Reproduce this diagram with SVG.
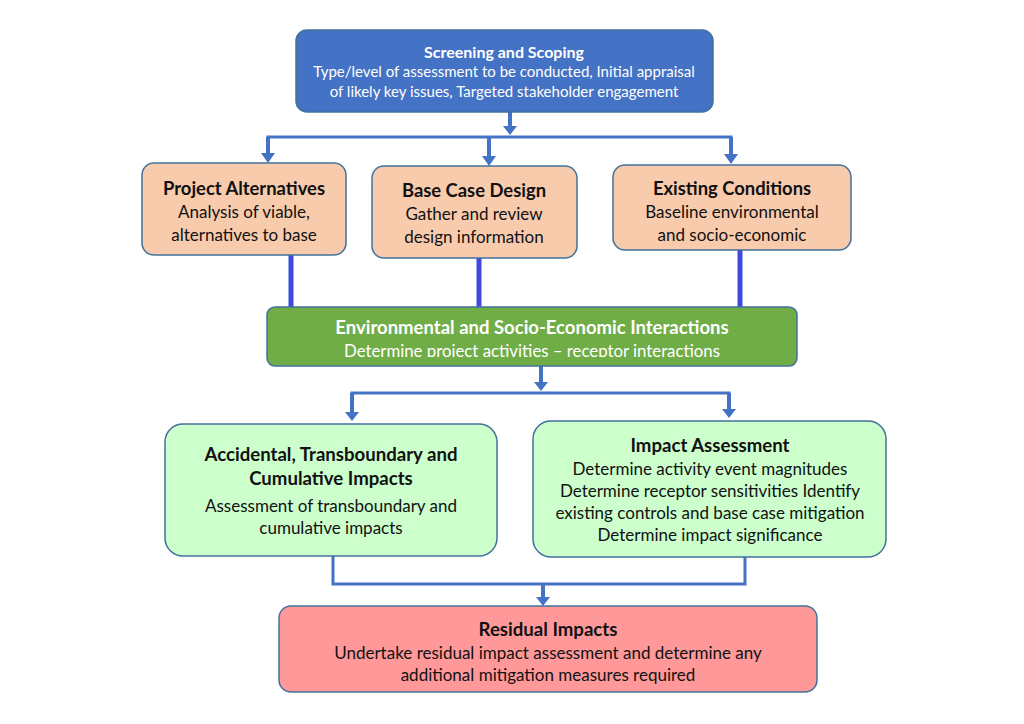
<svg xmlns="http://www.w3.org/2000/svg" width="1024" height="724" viewBox="0 0 1024 724">
<defs>
<style>
.box{stroke:#41719c;stroke-width:1.5}
.t{font-family:Lato,"Liberation Sans",sans-serif;text-anchor:middle;fill:#111}
.b{font-weight:bold}
.w{fill:#fff}
.stem{stroke:#4472c4;stroke-width:4;fill:none}
.bar{stroke:#4472c4;stroke-width:3;fill:none}
.vb{stroke:#3f48e0;stroke-width:5;fill:none}
.head{fill:#4472c4}
</style>
<clipPath id="clipG"><rect x="267" y="300" width="531" height="57"/></clipPath>
</defs>
<rect width="1024" height="724" fill="#fff"/>
<g id="connectors">
<line class="stem" x1="510" y1="112" x2="510" y2="128"/>
<polygon class="head" points="503,126 517,126 510,135"/>
<polyline class="bar" points="268,156 268,137 731,137 731,154"/>
<line class="stem" x1="268" y1="137" x2="268" y2="155"/>
<polygon class="head" points="261,153 275,153 268,163"/>
<line class="stem" x1="489" y1="137" x2="489" y2="157"/>
<polygon class="head" points="482,156 496,156 489,166"/>
<line class="stem" x1="731" y1="137" x2="731" y2="155"/>
<polygon class="head" points="724,154 738,154 731,164"/>
<line class="vb" x1="291" y1="255" x2="291" y2="307"/>
<line class="vb" x1="479" y1="258" x2="479" y2="307"/>
<line class="vb" x1="740" y1="250" x2="740" y2="307"/>
<line class="stem" x1="541" y1="366" x2="541" y2="384"/>
<polygon class="head" points="534,382 548,382 541,391"/>
<polyline class="bar" points="352,412 352,393 729,393 729,410"/>
<line class="stem" x1="352" y1="393" x2="352" y2="413"/>
<polygon class="head" points="345,412 359,412 352,421"/>
<line class="stem" x1="729" y1="393" x2="729" y2="410"/>
<polygon class="head" points="722,409 736,409 729,418"/>
<polyline class="bar" points="333,556 333,584 745,584 745,557"/>
<line class="stem" x1="543" y1="584" x2="543" y2="598"/>
<polygon class="head" points="536,597 550,597 543,606"/>
</g>
<g id="screening">
<rect class="box" x="296" y="30" width="417" height="82" rx="11" fill="#4472c4" stroke="#2f528f"/>
<text class="t b w" x="504" y="58" font-size="16">Screening and Scoping</text>
<text class="t w" x="504" y="77" font-size="15">Type/level of assessment to be conducted, Initial appraisal</text>
<text class="t w" x="504" y="97" font-size="15">of likely key issues, Targeted stakeholder engagement</text>
</g>
<g id="alternatives">
<rect class="box" x="142" y="163" width="204" height="92" rx="12" fill="#f8cbad"/>
<text class="t b" x="244" y="195" font-size="18.4">Project Alternatives</text>
<text class="t" x="244" y="218" font-size="17">Analysis of viable,</text>
<text class="t" x="244" y="241" font-size="17">alternatives to base</text>
</g>
<g id="basecase">
<rect class="box" x="372" y="166" width="205" height="92" rx="12" fill="#f8cbad"/>
<text class="t b" x="474" y="197" font-size="18.4">Base Case Design</text>
<text class="t" x="474" y="220" font-size="17">Gather and review</text>
<text class="t" x="474" y="243" font-size="17">design information</text>
</g>
<g id="existing">
<rect class="box" x="613" y="165" width="238" height="85" rx="12" fill="#f8cbad"/>
<text class="t b" x="732" y="195" font-size="18.4">Existing Conditions</text>
<text class="t" x="732" y="218" font-size="17">Baseline environmental</text>
<text class="t" x="732" y="241" font-size="17">and socio-economic</text>
</g>
<g id="interactions">
<rect class="box" x="267" y="307" width="530" height="59" rx="8" fill="#70ad47"/>
<text class="t b w" x="532" y="334" font-size="18.5">Environmental and Socio-Economic Interactions</text>
<text class="t w" x="532" y="357" font-size="16.8" clip-path="url(#clipG)">Determine project activities – receptor interactions</text>
</g>
<g id="accidental">
<rect class="box" x="165" y="424" width="332" height="132" rx="18" fill="#ccffcc"/>
<text class="t b" x="331" y="461" font-size="18.6">Accidental, Transboundary and</text>
<text class="t b" x="331" y="485" font-size="18.6">Cumulative Impacts</text>
<text class="t" x="331" y="512" font-size="17">Assessment of transboundary and</text>
<text class="t" x="331" y="534" font-size="17">cumulative impacts</text>
</g>
<g id="impact">
<rect class="box" x="533" y="421" width="353" height="136" rx="18" fill="#ccffcc"/>
<text class="t b" x="710" y="452" font-size="18.6">Impact Assessment</text>
<text class="t" x="710" y="475" font-size="17">Determine activity event magnitudes</text>
<text class="t" x="710" y="497" font-size="17">Determine receptor sensitivities Identify</text>
<text class="t" x="710" y="519" font-size="17">existing controls and base case mitigation</text>
<text class="t" x="710" y="541" font-size="17">Determine impact significance</text>
</g>
<g id="residual">
<rect class="box" x="279" y="606" width="538" height="86" rx="12" fill="#ff9999"/>
<text class="t b" x="548" y="636" font-size="18.6">Residual Impacts</text>
<text class="t" x="548" y="659" font-size="17">Undertake residual impact assessment and determine any</text>
<text class="t" x="548" y="681" font-size="17">additional mitigation measures required</text>
</g>
</svg>
